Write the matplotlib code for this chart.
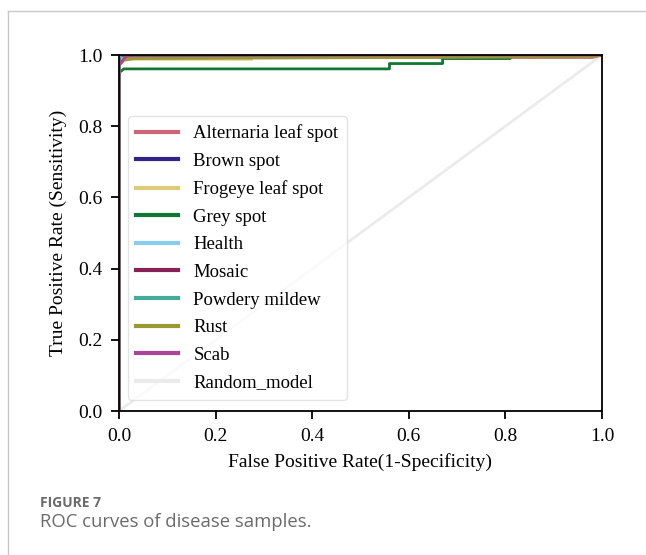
import matplotlib
matplotlib.use("Agg")
import matplotlib.pyplot as plt
from matplotlib.lines import Line2D

W, H = 646, 555

classes = ["Alternaria leaf spot", "Brown spot", "Frogeye leaf spot", "Grey spot",
           "Health", "Mosaic", "Powdery mildew", "Rust", "Scab"]
colors = ["#CC6677", "#332288", "#DDCC77", "#117733", "#88CCEE",
          "#882255", "#44AA99", "#999933", "#AA4499"]

fpr_alternaria = [0, 0, 0.01, 0.98, 1]
tpr_alternaria = [0, 0.97, 0.993, 0.993, 1]
fpr_brown = [0, 0, 0.005, 1]
tpr_brown = [0, 0.99, 1, 1]
fpr_frogeye = [0, 0, 0.01, 0.275, 0.275, 1]
tpr_frogeye = [0, 0.97, 0.988, 0.988, 0.995, 1]
fpr_grey = [0, 0, 0.01, 0.56, 0.56, 0.67, 0.67, 0.81, 0.81, 1]
tpr_grey = [0, 0.95, 0.961, 0.961, 0.976, 0.976, 0.99, 0.99, 1, 1]
fpr_health = [0, 0, 0.01, 1]
tpr_health = [0, 0.98, 1, 1]
fpr_mosaic = [0, 0, 1]
tpr_mosaic = [0, 1, 1]
fpr_powdery = [0, 0, 0.005, 1]
tpr_powdery = [0, 0.99, 1, 1]
fpr_rust = [0, 0, 0.01, 0.03, 0.98, 1]
tpr_rust = [0, 0.97, 0.985, 0.99, 0.995, 1]
fpr_scab = [0, 0, 0.01, 0.02, 1]
tpr_scab = [0, 0.97, 0.99, 1, 1]
fpr_random = [0, 1]
tpr_random = [0, 1]

fprs = [fpr_alternaria, fpr_brown, fpr_frogeye, fpr_grey, fpr_health,
        fpr_mosaic, fpr_powdery, fpr_rust, fpr_scab]
tprs = [tpr_alternaria, tpr_brown, tpr_frogeye, tpr_grey, tpr_health,
        tpr_mosaic, tpr_powdery, tpr_rust, tpr_scab]

ticks = [0.0, 0.2, 0.4, 0.6, 0.8, 1.0]
tick_labels = ["0.0", "0.2", "0.4", "0.6", "0.8", "1.0"]

plt.rcParams['font.family'] = ['Liberation Serif', 'DejaVu Serif']

fig = plt.figure(figsize=(W / 100, H / 100), dpi=100)
ax = fig.add_axes([119 / W, 1 - 411 / H, (602 - 119) / W, (411 - 55) / H])

for f, t, c, name in zip(fprs, tprs, colors, classes):
    ax.plot(f, t, color=c, lw=2, label=name)
ax.plot(fpr_random, tpr_random, color="#EBEBEB", lw=2, label="Random_model", zorder=1)

ax.set_xlim(0, 1)
ax.set_ylim(0, 1)
ax.set_xticks(ticks)
ax.set_xticklabels(tick_labels)
ax.set_yticks(ticks)
ax.set_yticklabels(tick_labels)
ax.tick_params(direction='out', length=6, width=1.3, pad=6, labelsize=14, colors='black')
for s in ax.spines.values():
    s.set_linewidth(1.3)
ax.set_xlabel("False Positive Rate(1-Specificity)", fontsize=14, labelpad=6)
ax.set_ylabel("True Positive Rate (Sensitivity)", fontsize=14, labelpad=8)

leg = ax.legend(loc='lower left', bbox_to_anchor=(0.0186, 0.031), borderaxespad=0,
                fontsize=13.5, handlelength=2.24, labelspacing=0.56, borderpad=0.45,
                frameon=True)
leg.get_frame().set_edgecolor('#dddddd')
for lh in leg.get_lines():
    lh.set_linewidth(3)

# page frame
fig.add_artist(Line2D([8 / W, 1], [1 - 11 / H, 1 - 11 / H], transform=fig.transFigure,
                      color='#c8c8c8', lw=1))
fig.add_artist(Line2D([8 / W, 8 / W], [0, 1 - 11 / H], transform=fig.transFigure,
                      color='#c8c8c8', lw=1))

fig.text(40 / W, 1 - 507 / H, "FIGURE 7", fontsize=10, fontweight='bold',
         color='#6b6b6b', family=['Open Sans', 'DejaVu Sans'])
fig.text(40 / W, 1 - 527 / H, "ROC curves of disease samples.", fontsize=13.3,
         color='#6b6b6b', family=['Open Sans', 'DejaVu Sans'])

fig.savefig("out.png", dpi=100, facecolor='white')
